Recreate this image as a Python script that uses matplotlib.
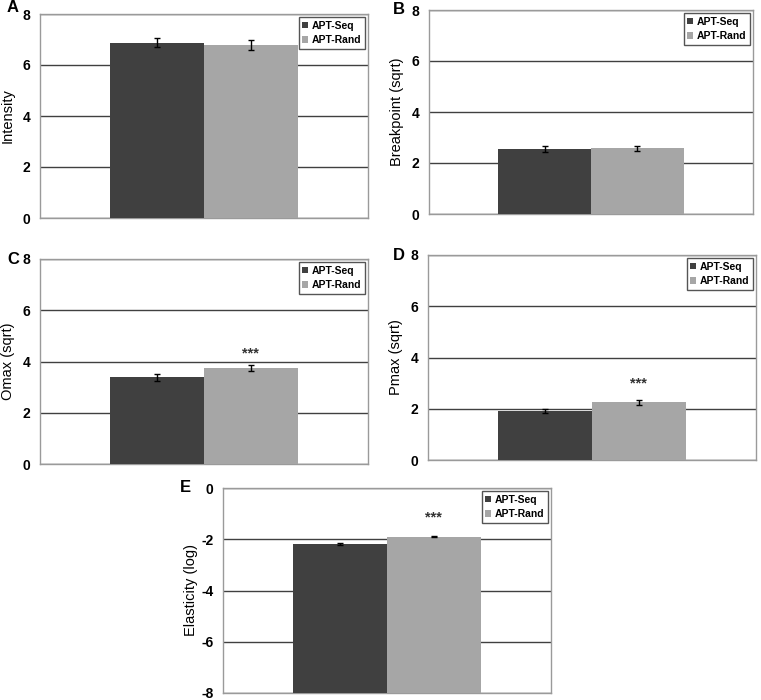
import numpy as np
import matplotlib
matplotlib.use("Agg")
import matplotlib.pyplot as plt

plt.rcParams['font.family'] = ['Liberation Sans', 'DejaVu Sans']
plt.rcParams['axes.unicode_minus'] = False

# ======================================
# Data
# ======================================

groups = ["APT-Seq", "APT-Rand"]
colors = ["#404040", "#a6a6a6"]

panel_letters = ["A", "B", "C", "D", "E"]
ylabels = ["Intensity", "Breakpoint (sqrt)", "Omax (sqrt)", "Pmax (sqrt)", "Elasticity (log)"]

intensity = [6.88, 6.79]
intensity_err = [0.18, 0.20]
breakpoint = [2.55, 2.57]
breakpoint_err = [0.10, 0.10]
omax = [3.38, 3.75]
omax_err = [0.13, 0.13]
pmax = [1.92, 2.25]
pmax_err = [0.08, 0.10]
elasticity = [-2.18, -1.90]
elasticity_err = [0.04, 0.03]

values = [intensity, breakpoint, omax, pmax, elasticity]
errors = [intensity_err, breakpoint_err, omax_err, pmax_err, elasticity_err]
significant = [False, False, True, True, True]
star_gap = [0, 0, 0.42, 0.65, 0.73]
ylims = [(0, 8), (0, 8), (0, 8), (0, 8), (-8, 0)]

# ======================================
# Layout (pixels): left, top, right, bottom
# ======================================

boxes = [(40, 14, 368, 218), (429, 10, 753, 214),
         (40, 259, 368, 464), (428, 255, 756, 460),
         (223, 488, 551, 693)]
letter_xy = [(7, 8), (393, 9), (7, 259), (393, 256), (180, 488)]

W, H = 761, 700
fig = plt.figure(figsize=(W / 100, H / 100), dpi=100)

bar_w = 0.286
xpos = [-bar_w / 2, bar_w / 2]

for i in range(5):
    l, t, r, b = boxes[i]
    ax = fig.add_axes([l / W, 1 - b / H, (r - l) / W, (b - t) / H])
    lo, hi = ylims[i]

    for j in range(2):
        ax.bar(xpos[j], values[i][j] - lo, bottom=lo, width=bar_w,
               color=colors[j], label=groups[j], zorder=3)
        ax.errorbar(xpos[j], values[i][j], yerr=errors[i][j], fmt='none',
                    ecolor='black', elinewidth=1, capsize=2.5, capthick=1, zorder=4)

    if significant[i]:
        ax.text(xpos[1], values[i][1] + errors[i][1] + star_gap[i], "***",
                ha='center', va='center', fontsize=10.5, fontweight='bold',
                color='#333333')

    ax.set_xlim(-0.5, 0.5)
    ax.set_ylim(lo, hi)
    ax.set_yticks(np.arange(lo, hi + 1, 2))
    ax.set_xticks([])
    ax.yaxis.grid(True, color='#404040', linewidth=1, zorder=1)
    ax.set_axisbelow(True)
    for s in ax.spines.values():
        s.set_color('#9a9a9a')
        s.set_linewidth(1)
    ax.tick_params(axis='y', length=0, pad=7, labelsize=10)
    for lab in ax.get_yticklabels():
        lab.set_fontweight('bold')
    ax.set_ylabel(ylabels[i], fontsize=10.5)
    ax.yaxis.set_label_coords(-25 / (r - l), 0.5)

    leg = ax.legend(loc='upper right', fontsize=7.5, handlelength=0.6,
                    handleheight=0.6, handletextpad=0.3, borderpad=0.35,
                    labelspacing=0.45, fancybox=False, framealpha=1,
                    borderaxespad=0.3)
    leg.get_frame().set_edgecolor('#555555')
    leg.get_frame().set_linewidth(1)
    for txt in leg.get_texts():
        txt.set_fontweight('bold')

    lx, ly = letter_xy[i]
    fig.text(lx / W, 1 - ly / H, panel_letters[i],
             fontsize=12, fontweight='bold', va='center', ha='left')

fig.savefig("out.png", dpi=100)
